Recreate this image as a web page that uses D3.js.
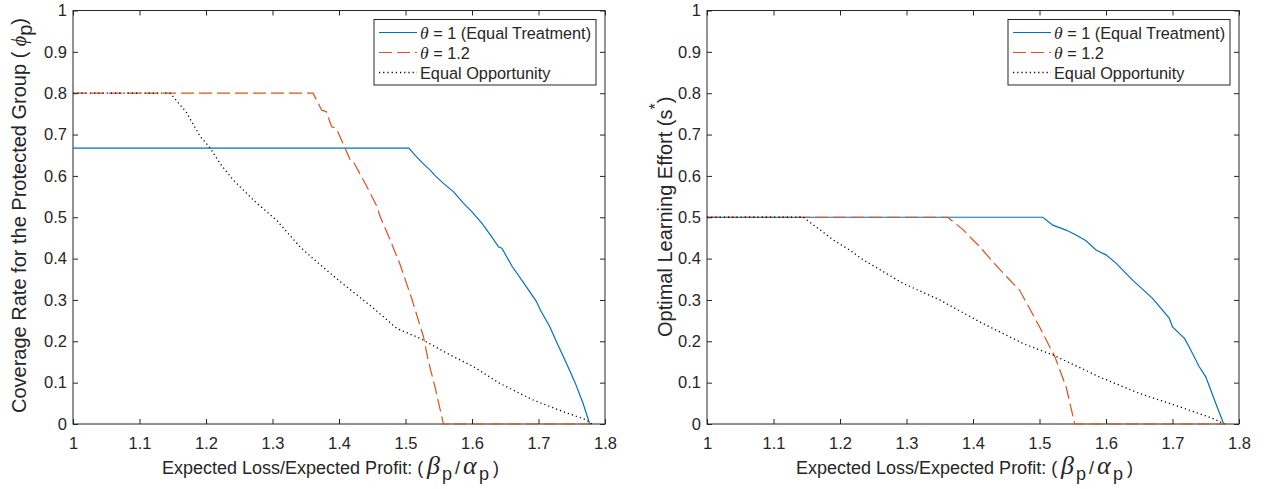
<!DOCTYPE html>
<html>
<head>
<meta charset="utf-8">
<script src="https://cdn.jsdelivr.net/npm/d3@7"></script>
<style>
  body { margin: 0; background: #fff; }
  svg { display: block; font-family: "Liberation Sans", Arial, sans-serif; }
  .tick text { fill: #262626; font-size: 16.5px; }
  .tick line { stroke: #262626; }
</style>
</head>
<body>
<svg id="chart" width="1266" height="489"></svg>
<script>
// x ticks and y ticks
let xTicks = [1, 1.1, 1.2, 1.3, 1.4, 1.5, 1.6, 1.7, 1.8]
let yTicks = [0, 0.1, 0.2, 0.3, 0.4, 0.5, 0.6, 0.7, 0.8, 0.9, 1]
let seriesNames = ['θ = 1 (Equal Treatment)', 'θ = 1.2', 'Equal Opportunity']

// left panel: coverage rate
let covTheta1X = [1, 1.505, 1.514, 1.525, 1.537, 1.545, 1.557, 1.572, 1.587, 1.600, 1.615, 1.630, 1.640, 1.645, 1.660, 1.680, 1.697, 1.703, 1.717, 1.727, 1.742, 1.755, 1.767, 1.777]
let covTheta1Y = [0.667, 0.667, 0.651, 0.632, 0.614, 0.600, 0.582, 0.562, 0.534, 0.513, 0.485, 0.452, 0.428, 0.425, 0.382, 0.336, 0.296, 0.275, 0.235, 0.199, 0.147, 0.100, 0.050, 0.0]
let covTheta12X = [1, 1.361, 1.374, 1.381, 1.389, 1.396, 1.417, 1.421, 1.440, 1.457, 1.462, 1.477, 1.482, 1.492, 1.510, 1.527, 1.534, 1.545, 1.557, 1.78]
let covTheta12Y = [0.8, 0.8, 0.759, 0.755, 0.719, 0.715, 0.638, 0.636, 0.580, 0.526, 0.501, 0.445, 0.425, 0.385, 0.300, 0.211, 0.155, 0.085, 0.0, 0.0]
let covEqOppX = [1, 1.146, 1.170, 1.191, 1.206, 1.221, 1.241, 1.271, 1.306, 1.341, 1.366, 1.402, 1.452, 1.487, 1.522, 1.567, 1.602, 1.642, 1.692, 1.737, 1.772, 1.78]
let covEqOppY = [0.8, 0.8, 0.755, 0.696, 0.668, 0.630, 0.590, 0.542, 0.493, 0.429, 0.393, 0.344, 0.280, 0.231, 0.207, 0.167, 0.139, 0.098, 0.058, 0.030, 0.010, 0.0]

// right panel: optimal learning effort
let effTheta1X = [1, 1.505, 1.520, 1.540, 1.555, 1.570, 1.585, 1.600, 1.615, 1.640, 1.670, 1.695, 1.700, 1.718, 1.725, 1.740, 1.750, 1.765, 1.777]
let effTheta1Y = [0.5, 0.5, 0.481, 0.469, 0.457, 0.443, 0.421, 0.409, 0.389, 0.348, 0.304, 0.256, 0.235, 0.207, 0.187, 0.139, 0.114, 0.050, 0.0]
let effTheta12X = [1, 1.362, 1.385, 1.400, 1.410, 1.430, 1.460, 1.470, 1.500, 1.523, 1.540, 1.553, 1.78]
let effTheta12Y = [0.5, 0.5, 0.470, 0.445, 0.429, 0.392, 0.340, 0.324, 0.235, 0.163, 0.090, 0.0, 0.0]
let effEqOppX = [1, 1.145, 1.190, 1.215, 1.235, 1.295, 1.350, 1.410, 1.475, 1.520, 1.590, 1.650, 1.710, 1.760, 1.778]
let effEqOppY = [0.5, 0.5, 0.445, 0.420, 0.397, 0.340, 0.300, 0.247, 0.195, 0.167, 0.114, 0.074, 0.042, 0.014, 0.0]

let ink = '#262626'
let serif = '"Liberation Serif", serif'
let styles = [
    { color: '#0072BD', dash: null },
    { color: '#D95319', dash: '13,5' },
    { color: '#000000', dash: '1.2,3' }
]

let svg = d3.select('#chart')

let zip = (xs, ys) => xs.map((x, i) => [x, ys[i]])

let drawPanel = (left, right, series, ylabel) => {
    let x = d3.scaleLinear().domain([1, 1.8]).range([left, right])
    let y = d3.scaleLinear().domain([0, 1]).range([424, 10.5])
    let g = svg.append('g')

    g.append('rect')
        .attr('x', left).attr('y', 10.5)
        .attr('width', right - left).attr('height', 424 - 10.5)
        .attr('fill', 'none').attr('stroke', ink).attr('stroke-width', 1)

    let line = d3.line().x(d => x(d[0])).y(d => y(d[1]))
    series.forEach((s, i) => {
        g.append('path')
            .attr('d', line(s))
            .attr('fill', 'none')
            .attr('stroke', styles[i].color)
            .attr('stroke-width', i === 2 ? 1.3 : 1.2)
            .attr('stroke-dasharray', styles[i].dash)
    })

    let fmt = d => d3.format('~g')(d)
    g.append('g').attr('transform', 'translate(0,424)')
        .call(d3.axisBottom(x).tickValues(xTicks).tickFormat(fmt).tickSizeInner(-5).tickSizeOuter(0).tickPadding(13))
    g.append('g').attr('transform', 'translate(0,10.5)')
        .call(d3.axisTop(x).tickValues(xTicks).tickFormat('').tickSizeInner(-5).tickSizeOuter(0))
    g.append('g').attr('transform', 'translate(' + left + ',0)')
        .call(d3.axisLeft(y).tickValues(yTicks).tickFormat(fmt).tickSizeInner(-5).tickSizeOuter(0).tickPadding(6))
    g.append('g').attr('transform', 'translate(' + right + ',0)')
        .call(d3.axisRight(y).tickValues(yTicks).tickFormat('').tickSizeInner(-5).tickSizeOuter(0))
    g.selectAll('.domain').remove()
    g.selectAll('.tick text').attr('font-family', null).attr('font-size', null)

    // x label, math part placed like the tex interpreter
    let xl = g.append('text')
        .attr('x', left + 89).attr('y', 474)
        .attr('text-anchor', 'start')
        .attr('fill', ink).attr('font-size', 18)
    xl.append('tspan').text('Expected Loss/Expected Profit: (')
    xl.append('tspan').text('β').attr('x', left + 354).attr('font-family', serif).attr('font-style', 'italic').attr('font-size', 26)
    xl.append('tspan').text('p').attr('x', left + 369).attr('dy', 6)
    xl.append('tspan').text('/').attr('x', left + 382).attr('dy', -6)
    xl.append('tspan').text('α').attr('x', left + 390).attr('font-family', serif).attr('font-style', 'italic').attr('font-size', 26)
    xl.append('tspan').text('p').attr('x', left + 406).attr('dy', 6)
    xl.append('tspan').text(')').attr('x', left + 420).attr('dy', -6)

    // y label
    let yl = g.append('text')
        .attr('transform', 'translate(' + ylabel.x + ',' + ylabel.y + ') rotate(-90)')
        .attr('text-anchor', 'start')
        .attr('fill', ink).attr('font-size', 20)
    ylabel.build(yl)

    // legend
    let lx = right - 231
    let ly = 19.5
    g.append('rect')
        .attr('x', lx).attr('y', ly).attr('width', 222).attr('height', 65.5)
        .attr('fill', '#fff').attr('stroke', ink).attr('stroke-width', 1)
    seriesNames.forEach((name, i) => {
        let cy = ly + 13 + i * 20
        g.append('line')
            .attr('x1', lx + 5).attr('x2', lx + 43)
            .attr('y1', cy).attr('y2', cy)
            .attr('stroke', styles[i].color)
            .attr('stroke-width', i === 2 ? 1.3 : 1.2)
            .attr('stroke-dasharray', styles[i].dash)
        let t = g.append('text')
            .attr('x', lx + 46).attr('y', cy + 6)
            .attr('fill', ink).attr('font-size', 16.3)
        if (name.startsWith('θ')) {
            t.append('tspan').text('θ').attr('font-family', serif).attr('font-style', 'italic').attr('font-size', 17.5)
            t.append('tspan').text(name.slice(1))
        } else {
            t.text(name)
        }
    })
}

drawPanel(73, 605, [zip(covTheta1X, covTheta1Y), zip(covTheta12X, covTheta12Y), zip(covEqOppX, covEqOppY)], {
    x: 26, y: 413,
    build: t => {
        t.append('tspan').text('Coverage Rate for the Protected Group ( ')
        t.append('tspan').text('ϕ').attr('font-family', serif).attr('font-style', 'italic')
        t.append('tspan').text('p').attr('dy', 6)
        t.append('tspan').text(')').attr('dy', -6)
    }
})

drawPanel(707, 1239, [zip(effTheta1X, effTheta1Y), zip(effTheta12X, effTheta12Y), zip(effEqOppX, effEqOppY)], {
    x: 672, y: 337,
    build: t => {
        t.append('tspan').text('Optimal Learning Effort (s')
        t.append('tspan').text('*').attr('dy', -11).attr('font-size', 16)
        t.append('tspan').text(')').attr('dy', 11)
    }
})
</script>
</body>
</html>
